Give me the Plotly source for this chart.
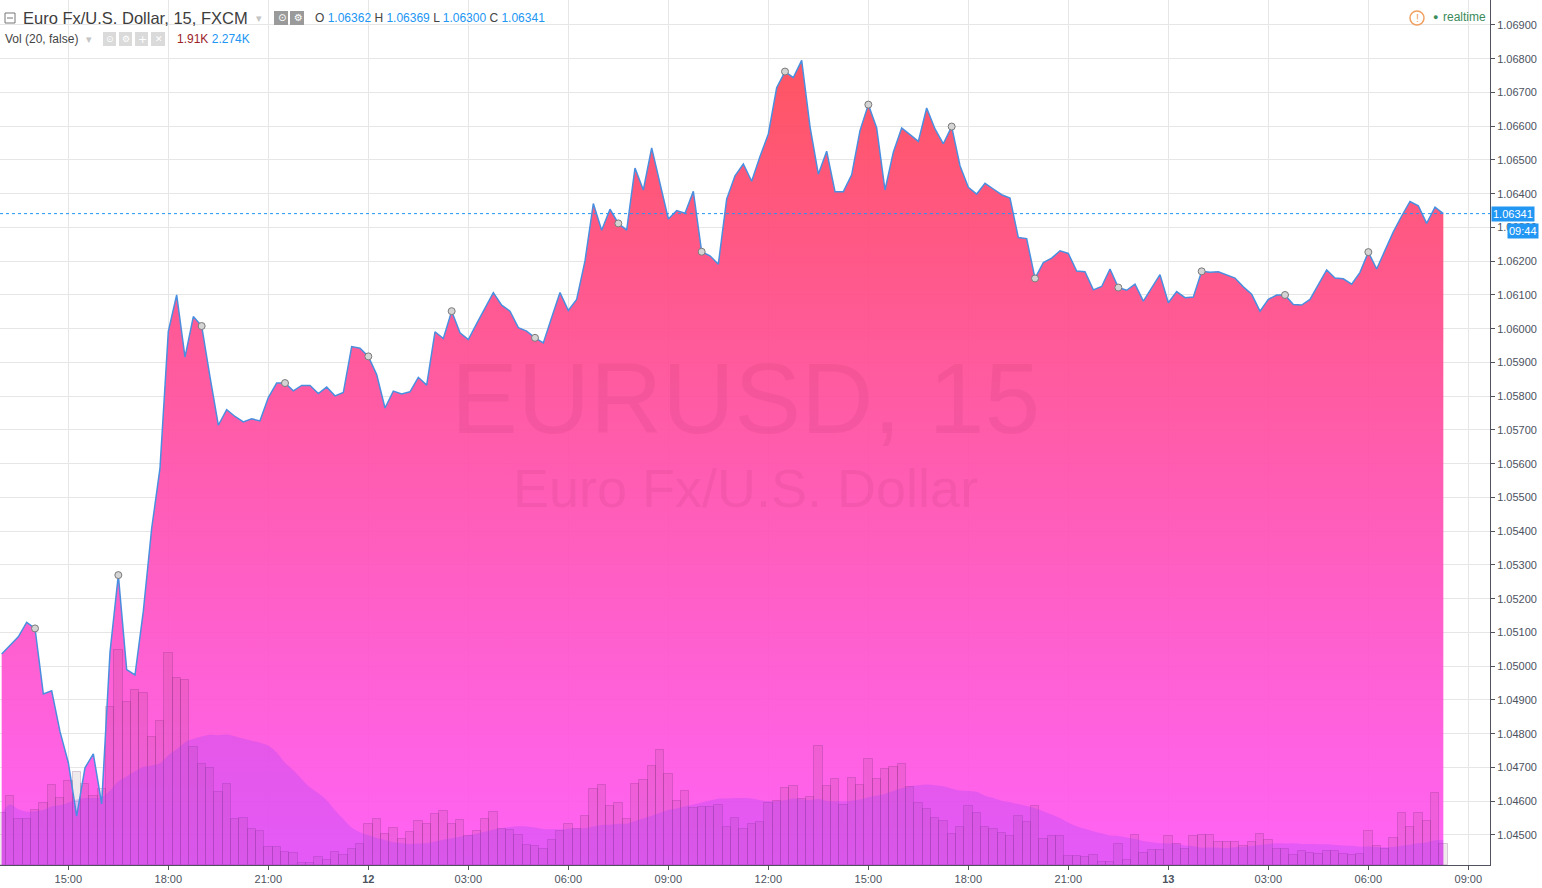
import plotly.graph_objects as go
import pandas as pd

# EUR/USD, 15 min closes (FXCM), 11 Jan 13:00 -> 13 Jan 08:15
start_time = "2017-01-11 13:00"
closes = [
    1.05036, 1.05061, 1.05087, 1.05130, 1.05112, 1.04918, 1.04927, 1.04806, 1.04714, 1.04556,
    1.04699, 1.04740, 1.04592, 1.05041, 1.05270, 1.04990, 1.04974, 1.05163, 1.05408, 1.05587,
    1.05992, 1.06100, 1.05916, 1.06036, 1.06008, 1.05857, 1.05714, 1.05760, 1.05740, 1.05724,
    1.05733, 1.05727, 1.05796, 1.05839, 1.05839, 1.05816, 1.05832, 1.05832, 1.05808, 1.05827,
    1.05801, 1.05811, 1.05947, 1.05942, 1.05918, 1.05864, 1.05765, 1.05815, 1.05807, 1.05813,
    1.05856, 1.05833, 1.05991, 1.05971, 1.06052, 1.05988, 1.05968, 1.06015, 1.06062, 1.06107,
    1.06070, 1.06052, 1.06003, 1.05993, 1.05973, 1.05958, 1.06033, 1.06107, 1.06054, 1.06087,
    1.06201, 1.06371, 1.06292, 1.06354, 1.06312, 1.06292, 1.06476, 1.06411, 1.06536, 1.06434,
    1.06325, 1.06350, 1.06342, 1.06407, 1.06228, 1.06216, 1.06191, 1.06384, 1.06453, 1.06488,
    1.06437, 1.06510, 1.06577, 1.06714, 1.06762, 1.06744, 1.06795, 1.06599, 1.06458, 1.06526,
    1.06406, 1.06406, 1.06456, 1.06587, 1.06664, 1.06595, 1.06411, 1.06523, 1.06595, 1.06575,
    1.06555, 1.06654, 1.06592, 1.06548, 1.06599, 1.06483, 1.06419, 1.06399, 1.06431, 1.06414,
    1.06397, 1.06387, 1.06270, 1.06267, 1.06149, 1.06196, 1.06209, 1.06231, 1.06223, 1.06171,
    1.06169, 1.06115, 1.06125, 1.06177, 1.06122, 1.06114, 1.06132, 1.06082, 1.06120, 1.06160,
    1.06077, 1.06110, 1.06092, 1.06094, 1.06170, 1.06167, 1.06169, 1.06160, 1.06150, 1.06124,
    1.06102, 1.06052, 1.06087, 1.06100, 1.06100, 1.06072, 1.06070, 1.06087, 1.06130, 1.06174,
    1.06150, 1.06148, 1.06132, 1.06167, 1.06227, 1.06177, 1.06232, 1.06287, 1.06334, 1.06377,
    1.06364, 1.06312, 1.06360, 1.06341,
]
# volume in thousands
volumes_k = [
    4.7, 6.3, 4.2, 4.2, 5.0, 5.6, 7.3, 6.1, 7.6, 8.5,
    7.4, 6.3, 6.9, 14.4, 19.6, 14.8, 15.9, 15.6, 11.6, 13.1,
    19.3, 17.0, 16.8, 10.7, 9.2, 8.8, 6.6, 7.4, 4.2, 4.3,
    3.3, 3.1, 1.6, 1.6, 1.2, 1.1, 0.15, 0.2, 0.75, 0.45,
    1.15, 0.9, 1.5, 1.9, 3.7, 4.2, 2.8, 3.4, 2.4, 3.0,
    4.0, 3.7, 4.6, 4.9, 3.7, 4.1, 2.6, 3.1, 4.2, 4.8,
    3.3, 3.2, 2.7, 1.8, 1.7, 1.5, 2.3, 3.1, 3.7, 3.3,
    4.5, 6.9, 7.3, 5.4, 5.6, 4.2, 7.4, 7.7, 9.0, 10.5,
    8.3, 5.8, 6.7, 5.2, 5.3, 5.3, 5.5, 3.5, 4.3, 3.3,
    3.7, 3.9, 5.6, 5.8, 7.0, 7.2, 6.0, 6.2, 10.8, 7.2,
    7.8, 5.5, 7.9, 7.3, 9.6, 7.8, 8.7, 8.9, 9.2, 7.1,
    5.6, 5.1, 4.3, 4.0, 2.8, 3.5, 5.4, 4.7, 3.5, 3.3,
    2.9, 2.6, 4.5, 3.9, 5.4, 2.4, 2.6, 2.6, 0.8, 0.8,
    0.7, 0.9, 0.25, 0.25, 1.9, 0.45, 2.7, 1.1, 1.4, 1.4,
    2.6, 1.9, 1.5, 2.6, 2.7, 2.7, 2.1, 2.1, 2.1, 1.7,
    2.1, 2.8, 2.3, 1.5, 1.5, 0.9, 1.3, 1.1, 1.0, 1.3,
    1.3, 1.0, 0.9, 1.0, 3.1, 1.7, 1.5, 2.5, 4.7, 3.5,
    4.7, 4.0, 6.57, 1.91,
]
vol_ma_len = 20
event_step = 10  # grey event dots every 10 bars, from bar 4

tick_times = ["2017-01-11 15:00", "2017-01-11 18:00", "2017-01-11 21:00", "2017-01-12 00:00",
              "2017-01-12 03:00", "2017-01-12 06:00", "2017-01-12 09:00", "2017-01-12 12:00",
              "2017-01-12 15:00", "2017-01-12 18:00", "2017-01-12 21:00", "2017-01-13 00:00",
              "2017-01-13 03:00", "2017-01-13 06:00", "2017-01-13 09:00"]
tick_labels = ["15:00", "18:00", "21:00", "<b>12</b>", "03:00", "06:00", "09:00", "12:00",
               "15:00", "18:00", "21:00", "<b>13</b>", "03:00", "06:00", "09:00"]
price_ticks = [1.045, 1.046, 1.047, 1.048, 1.049, 1.050, 1.051, 1.052, 1.053, 1.054, 1.055,
               1.056, 1.057, 1.058, 1.059, 1.060, 1.061, 1.062, 1.063, 1.064, 1.065, 1.066,
               1.067, 1.068, 1.069]

times = pd.date_range(start_time, periods=len(closes), freq="15min")
vol_ma = pd.Series(volumes_k).rolling(vol_ma_len, min_periods=1).mean()
ev = list(range(4, len(closes), event_step))

FONT = "Liberation Sans"
PW, PH = 1490, 865  # plot area in px
Y_LO, Y_HI = 1.04411, 1.06974
GRID = "#e6e6e6"
BLUE = "#2196f3"

fig = go.Figure()

# price area (gradient)
fig.add_trace(go.Scatter(
    x=times, y=closes, mode="lines", line=dict(width=0), fill="tozeroy",
    fillgradient=dict(type="vertical", start=Y_LO, stop=1.068,
                      colorscale=[[0, "rgba(255,88,245,0.93)"], [0.5, "rgba(255,80,170,0.93)"],
                                  [1, "rgba(255,72,86,0.93)"]]),
    showlegend=False, hoverinfo="skip"))

# volume + MA on overlay axis
fig.add_trace(go.Bar(
    x=times, y=volumes_k, yaxis="y2", width=900000,
    marker=dict(color="rgba(110,60,80,0.11)", line=dict(color="rgba(110,40,110,0.22)", width=1)),
    showlegend=False))
fig.add_trace(go.Scatter(
    x=times, y=vol_ma, yaxis="y2", mode="lines", line=dict(width=0, shape="spline"),
    fill="tozeroy", fillcolor="rgba(150,60,255,0.25)", showlegend=False, hoverinfo="skip"))

# price line and event dots on top
fig.add_trace(go.Scatter(
    x=times, y=closes, yaxis="y3", mode="lines", line=dict(color="#4a8fdf", width=1.5),
    showlegend=False))
fig.add_trace(go.Scatter(
    x=[times[i] for i in ev], y=[closes[i] for i in ev], yaxis="y3", mode="markers",
    marker=dict(size=7, color="#d4d4d4", line=dict(color="#7a7a7a", width=1)),
    showlegend=False))


def note(x, y, text, size=12, color="#444444", anchor="left", family=FONT, **kw):
    return dict(xref="paper", yref="paper", x=x / PW, y=1 - y / PH, text=text,
                showarrow=False, xanchor=anchor, yanchor="middle",
                font=dict(family=family, size=size, color=color), **kw)


def box(x0, y0, x1, y1, fill, line=None):
    return dict(type="rect", xref="paper", yref="paper", x0=x0 / PW, x1=x1 / PW,
                y0=1 - y0 / PH, y1=1 - y1 / PH, fillcolor=fill,
                line=dict(width=1 if line else 0, color=line or fill), layer="above")


last = closes[-1]
annotations = [
    # watermark
    note(745, 398, "EURUSD, 15", size=100, color="rgba(90,0,40,0.06)", anchor="center"),
    note(745, 488, "Euro Fx/U.S. Dollar", size=54, color="rgba(90,0,40,0.06)", anchor="center"),
    # header
    note(21, 18, "Euro Fx/U.S. Dollar, 15, FXCM", size=16.5, color="#3d3d3d"),
    note(254, 18, "▾", size=11, color="#c4c4c4"),
    note(276, 18, "⊙", size=10, color="#ffffff", family="DejaVu Sans"),
    note(292, 18, "⚙", size=10, color="#ffffff", family="DejaVu Sans"),
    note(313, 18, "O <span style='color:%s'>1.06362</span> H <span style='color:%s'>1.06369</span> "
                  "L <span style='color:%s'>1.06300</span> C <span style='color:%s'>%.5f</span>"
         % (BLUE, BLUE, BLUE, BLUE, last), size=12),
    note(3, 39, "Vol (20, false)", size=12),
    note(84, 39, "▾", size=11, color="#c4c4c4"),
    note(104, 39, "⊙", size=9, color="#ffffff", family="DejaVu Sans"),
    note(120, 39, "⚙", size=9, color="#ffffff", family="DejaVu Sans"),
    note(136, 39, "+", size=11, color="#ffffff", family="DejaVu Sans"),
    note(153, 39, "✕", size=9, color="#ffffff", family="DejaVu Sans"),
    note(175, 39, "<span style='color:#9b2226'>%.2fK</span> <span style='color:%s'>%.3fK</span>"
         % (volumes_k[-1], BLUE, vol_ma.iloc[-1]), size=12),
    # realtime badge
    note(1417, 18, "!", size=11, color="#f0a060", anchor="center"),
    note(1431, 17, "●", size=9, color="#3c8c5c"),
    note(1441, 17, "realtime", size=12, color="#3a8a5a"),
    # last price / countdown labels
    dict(xref="paper", yref="y", x=1 + 1 / PW, y=last, text="%.5f" % last, showarrow=False,
         xanchor="left", yanchor="middle", bgcolor=BLUE, borderpad=1,
         font=dict(family=FONT, size=11, color="white")),
    dict(xref="paper", yref="paper", x=1 + 17 / PW, y=1 - 231 / PH, text="09:44",
         showarrow=False, xanchor="left", yanchor="middle", bgcolor=BLUE, borderpad=1,
         font=dict(family=FONT, size=11, color="white")),
]

shapes = [
    # collapse box
    dict(type="rect", xref="paper", yref="paper", x0=5 / PW, x1=15 / PW, y0=1 - 23 / PH,
         y1=1 - 13 / PH, line=dict(color="#777777", width=1), layer="above"),
    dict(type="line", xref="paper", yref="paper", x0=7 / PW, x1=13 / PW, y0=1 - 18 / PH,
         y1=1 - 18 / PH, line=dict(color="#777777", width=1), layer="above"),
    box(274, 11, 288, 25, "#9a9a9a"),
    box(290, 11, 304, 25, "#9a9a9a"),
    box(103, 32, 116, 46, "#dadada"),
    box(119, 32, 132, 46, "#dadada"),
    box(135, 32, 148, 46, "#dadada"),
    box(151, 32, 165, 46, "#dadada"),
    dict(type="circle", xref="paper", yref="paper", x0=1410 / PW, x1=1424 / PW,
         y0=1 - 25 / PH, y1=1 - 11 / PH, line=dict(color="#f0a060", width=1.5), layer="above"),
    # current price line
    dict(type="line", xref="paper", yref="y", x0=0, x1=1, y0=last, y1=last,
         line=dict(color=BLUE, width=1, dash="dot"), layer="above"),
]

fig.update_layout(
    width=1542, height=888,
    margin=dict(l=0, r=52, t=0, b=23),
    paper_bgcolor="white", plot_bgcolor="white",
    showlegend=False, bargap=0,
    font=dict(family=FONT, size=11, color="#4c525e"),
    xaxis=dict(
        type="date",
        range=[str(times[0] - pd.Timedelta(minutes=3)),
               str(times[0] + pd.Timedelta(hours=44, minutes=39))],
        tickvals=tick_times, ticktext=tick_labels, tickangle=0,
        showgrid=True, gridcolor=GRID, gridwidth=1,
        showline=True, linecolor="#50535e", linewidth=1,
        ticks="outside", ticklen=4, tickcolor="#50535e",
        tickfont=dict(family=FONT, size=11, color="#4c525e"),
        zeroline=False, fixedrange=True),
    yaxis=dict(
        range=[Y_LO, Y_HI], side="right", tickvals=price_ticks, tickformat=".5f",
        showgrid=True, gridcolor=GRID, gridwidth=1,
        showline=True, linecolor="#50535e", linewidth=1,
        ticks="outside", ticklen=4, tickcolor="#50535e",
        tickfont=dict(family=FONT, size=11, color="#4c525e"),
        zeroline=False, fixedrange=True),
    yaxis2=dict(overlaying="y", range=[0, PH * 1.91 / 21], visible=False, fixedrange=True),
    yaxis3=dict(overlaying="y", range=[Y_LO, Y_HI], visible=False, fixedrange=True),
    annotations=annotations,
    shapes=shapes,
)

# page body has a default margin; drop it so the 1542x888 figure fills the window
fig.write_html("out.html", config={"displayModeBar": False},
               post_script="document.body.style.margin='0';document.body.style.overflow='hidden';")
